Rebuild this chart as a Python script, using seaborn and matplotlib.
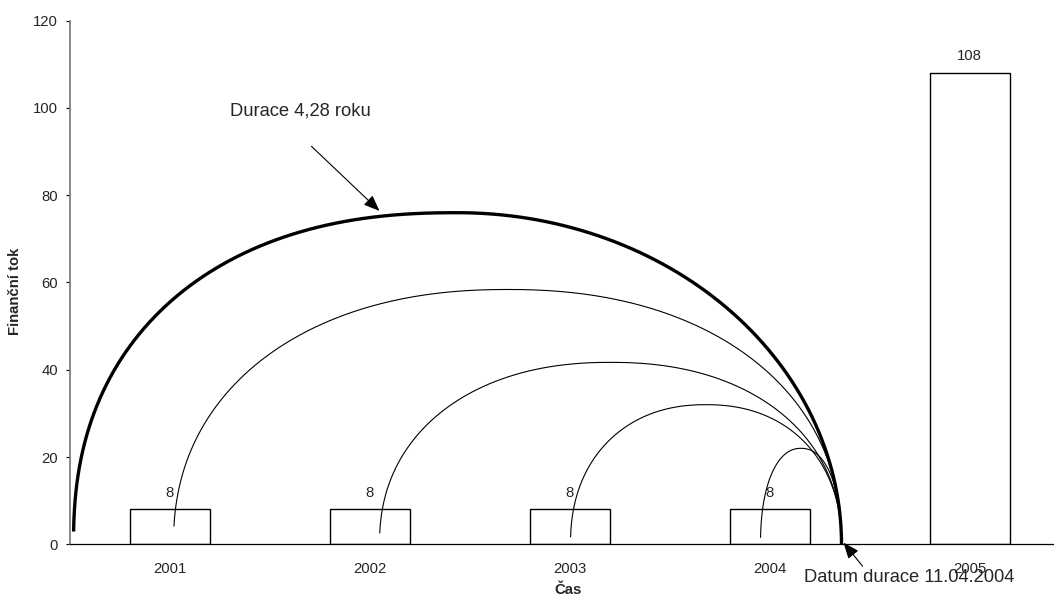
import numpy as np
import pandas as pd
import matplotlib
matplotlib.use("Agg")
import matplotlib.pyplot as plt
import seaborn as sns

# Cash flows per year
years = ["2001", "2002", "2003", "2004", "2005"]
cash_flows = [8, 8, 8, 8, 108]

# Duration arc (thick): left foot, right foot (duration date), height, start height
duration_arc = {"left": -0.48, "right": 3.36, "height": 76.0, "start": 2.5}

# Arcs from each coupon to the duration date
arc_left = [0.02, 1.05, 2.005, 2.955]
arc_right = [3.36, 3.36, 3.36, 3.36]
arc_height = [58.4, 41.7, 32.0, 22.0]
arc_start = [3.7, 2.5, 1.6, 1.4]

duration_label = "Durace 4,28 roku"
date_label = "Datum durace 11.04.2004"

sns.set_style("white")
plt.rcParams["font.family"] = ["Liberation Sans", "DejaVu Sans"]

fig = plt.figure(figsize=(10.54, 5.98), dpi=100)
ax = fig.add_axes([69.5 / 1054, 53.7 / 598, 1000 / 1054, 523.6 / 598])

df = pd.DataFrame({"rok": years, "tok": cash_flows})
sns.barplot(data=df, x="rok", y="tok", color="white", saturation=1,
            edgecolor="black", linewidth=1.0, width=0.4, ax=ax)

for i, v in enumerate(cash_flows):
    ax.annotate(str(v), (i, v), xytext=(0, 7), textcoords="offset points",
                ha="center", va="bottom", fontsize=10.7)


def arc_points(left, right, height, start, p_left=2.2, p_right=2.2, n=400):
    cx = (left + right) / 2
    a = (right - left) / 2
    th = np.linspace(np.pi, 0, n)
    c, s = np.cos(th), np.sin(th)
    p = np.where(c < 0, p_left, p_right)
    x = cx + a * np.sign(c) * np.abs(c) ** (2 / p)
    y = height * np.abs(s) ** (2 / p)
    keep = (c >= 0) | (y >= start)
    return x[keep], y[keep]


x, y = arc_points(duration_arc["left"], duration_arc["right"],
                  duration_arc["height"], duration_arc["start"],
                  p_left=2.3, p_right=2.0)
ax.plot(x, y, color="black", lw=2.4, solid_capstyle="butt")

for l, r, h, s0 in zip(arc_left, arc_right, arc_height, arc_start):
    x, y = arc_points(l, r, h, s0)
    ax.plot(x, y, color="black", lw=0.8)

ax.set_xlim(-0.5, 4.5)
ax.set_ylim(0, 120)
ax.set_yticks(np.arange(0, 121, 20))

# Category labels at centres, tick marks at category boundaries
ax.set_xticks(range(len(years)))
ax.set_xticklabels(years)
ax.set_xticks(np.arange(-0.5, 4.6, 1.0), minor=True)
ax.tick_params(axis="x", which="major", length=0, pad=12.5, labelsize=10.7)
ax.tick_params(axis="x", which="minor", length=3.6, width=0.8,
               direction="out", color="black")
ax.tick_params(axis="y", which="major", length=3.2, width=0.8,
               direction="out", color="black", pad=5, labelsize=10.7,
               left=True)

for side in ["top", "right"]:
    ax.spines[side].set_visible(False)
ax.spines["left"].set_color("#808080")
ax.spines["left"].set_linewidth(1.3)
ax.spines["bottom"].set_color("black")
ax.spines["bottom"].set_linewidth(0.9)

ax.set_xlabel("Čas", fontsize=10.7, fontweight="bold")
ax.set_ylabel("Finanční tok", fontsize=10.7, fontweight="bold")
ax.xaxis.set_label_coords(0.499, -0.087)
ax.xaxis.label.set_va("center")
ax.yaxis.set_label_coords(-0.0545, 0.484)
ax.yaxis.label.set_va("center")

arrow = dict(arrowstyle="-|>,head_length=0.75,head_width=0.3",
             color="black", lw=0.8, mutation_scale=13, shrinkA=0, shrinkB=0)

ax.text(0.30, 99.2, duration_label, fontsize=13.2, ha="left", va="center")
ax.annotate("", xy=(1.05, 76.4), xytext=(0.71, 91.2), arrowprops=arrow)

ax.text(3.17, -7.7, date_label, fontsize=13.2, ha="left", va="center",
        clip_on=False)
ax.annotate("", xy=(3.37, 0.4), xytext=(3.465, -5.0), arrowprops=arrow,
            annotation_clip=False)

fig.savefig("out.png", dpi=100)
